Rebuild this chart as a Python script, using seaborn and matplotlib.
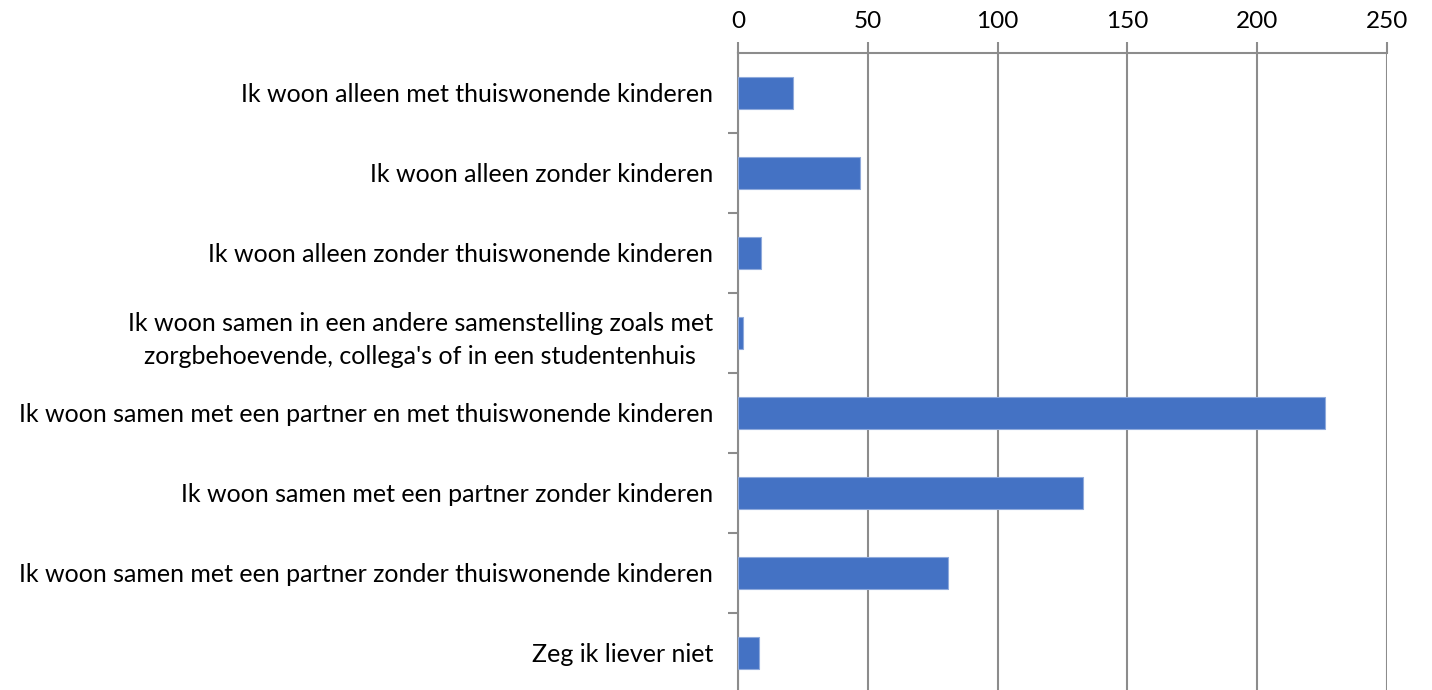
import matplotlib.pyplot as plt
import seaborn as sns
import numpy as np

# Data
categories = [
    "Ik woon alleen met thuiswonende kinderen",
    "Ik woon alleen zonder kinderen",
    "Ik woon alleen zonder thuiswonende kinderen",
    "Ik woon samen in een andere samenstelling zoals met\nzorgbehoevende, collega's of in een studentenhuis",
    "Ik woon samen met een partner en met thuiswonende kinderen",
    "Ik woon samen met een partner zonder kinderen",
    "Ik woon samen met een partner zonder thuiswonende kinderen",
    "Zeg ik liever niet",
]
counts = [21, 47, 9, 2, 226, 133, 81, 8]
x_ticks = [0, 50, 100, 150, 200, 250]

sns.set_theme(style="white")
plt.rcParams["font.family"] = ["Lato", "DejaVu Sans"]

grey = "#8c8c8c"
fig = plt.figure(figsize=(14.32, 6.9), dpi=100)
ax = fig.add_axes([738 / 1432, -3 / 690, 649 / 1432, 640 / 690])

sns.barplot(x=counts, y=categories, color="#4472C4", saturation=1, width=0.4,
            edgecolor="#8FAADC", linewidth=0.8, orient="h", ax=ax, zorder=3)

ax.set_xlim(0, 250)
ax.set_ylim(7.5, -0.5)
ax.set_xticks(x_ticks)
ax.xaxis.tick_top()
ax.set_xlabel("")
ax.set_ylabel("")
ax.grid(axis="x", color=grey, linewidth=1.5, zorder=0)
ax.set_axisbelow(True)

for side in ["right", "bottom"]:
    ax.spines[side].set_visible(False)
for side in ["top", "left"]:
    ax.spines[side].set_color(grey)
    ax.spines[side].set_linewidth(1.5)

ax.tick_params(axis="x", which="major", top=True, direction="out", length=8,
               width=1.5, color=grey, labelsize=17.5, pad=7, labelcolor="black")
ax.tick_params(axis="y", which="major", left=False, length=0, labelsize=18,
               pad=18, labelcolor="black")
ax.set_yticks(np.arange(0.5, 7, 1), minor=True)
ax.tick_params(axis="y", which="minor", left=True, direction="out", length=7,
               width=1.5, color=grey)

for lbl in ax.get_yticklabels():
    lbl.set_multialignment("center")
    lbl.set_linespacing(1.55)

fig.savefig("out.png", dpi=100)
